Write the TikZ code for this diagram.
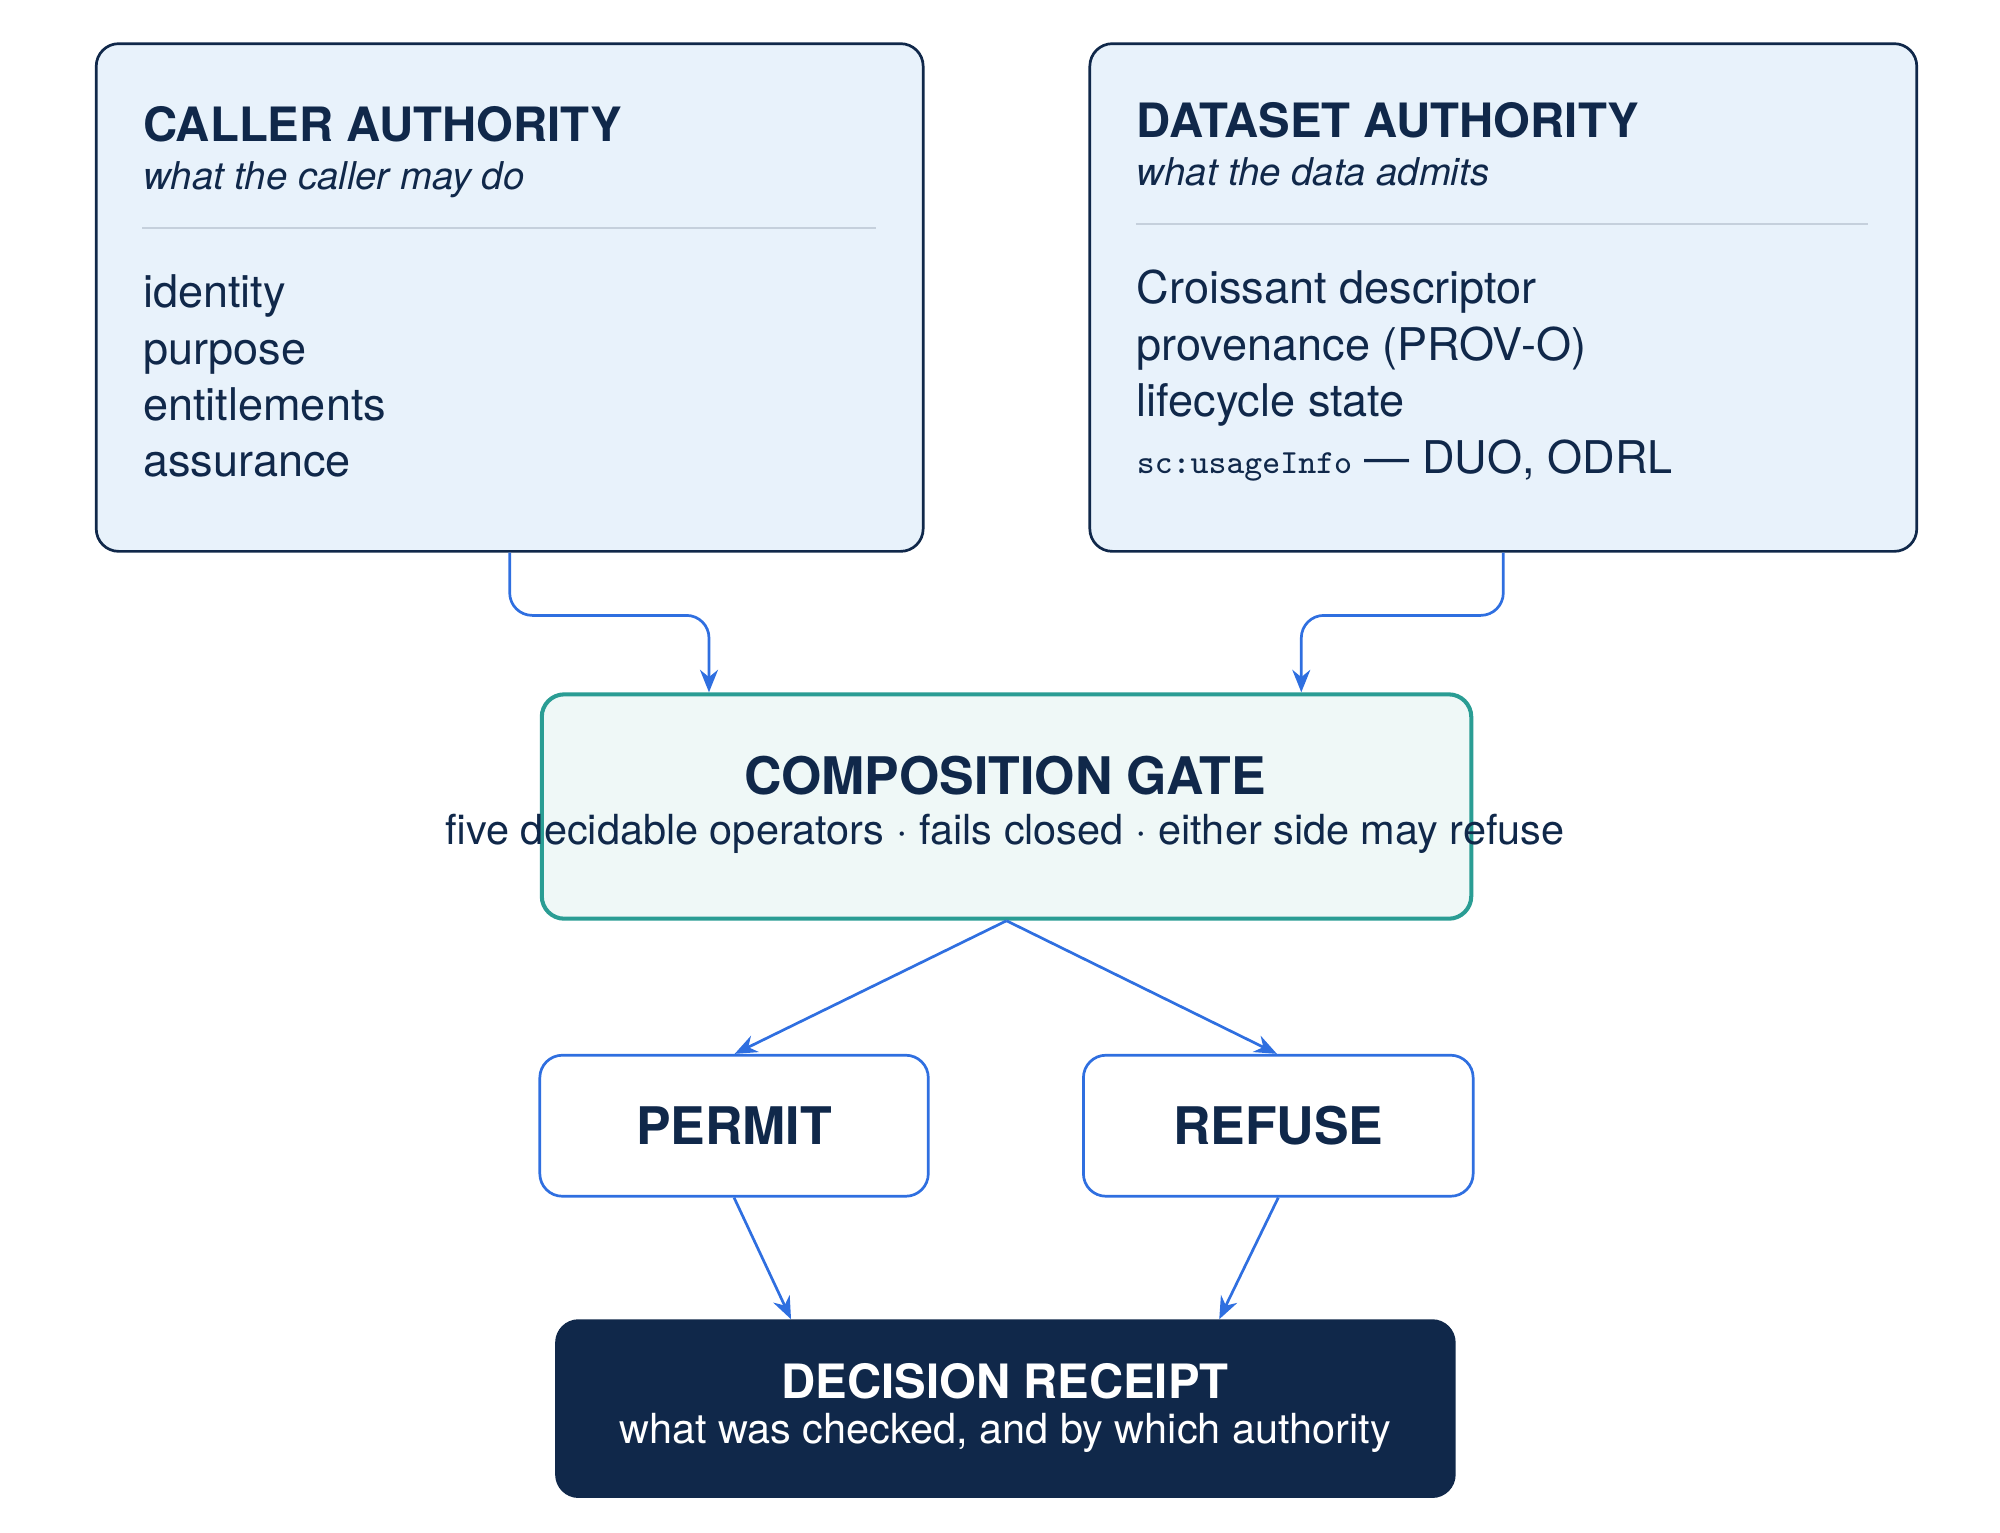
\documentclass[tikz,border=0pt]{standalone}
\usepackage{fontspec}
\setmainfont{TeX Gyre Heros}
\usetikzlibrary{arrows.meta}
\definecolor{ink}{HTML}{10284A}
\definecolor{paleblue}{HTML}{E8F2FB}
\definecolor{teal}{HTML}{2A9D94}
\definecolor{mint}{HTML}{EFF8F7}
\definecolor{wire}{HTML}{2F6FE0}
\definecolor{rulegray}{HTML}{C5D0DC}
\tikzset{
  authority/.style={draw=ink, fill=paleblue, rounded corners=5pt, line width=0.6pt},
  gate/.style={draw=teal, fill=mint, rounded corners=5pt, line width=0.9pt},
  outcome/.style={draw=wire, fill=white, rounded corners=5pt, line width=0.6pt},
  receipt/.style={draw=ink, fill=ink, rounded corners=5pt},
  flow/.style={draw=wire, line width=0.6pt, -{Stealth[length=5pt,width=4pt]}, rounded corners=5pt},
  ttl/.style={font=\fontsize{10.5}{12}\selectfont\bfseries, text=ink, inner sep=0pt},
  sub/.style={font=\fontsize{8.5}{10}\selectfont\itshape, text=ink, inner sep=0pt},
  item/.style={font=\fontsize{10}{12}\selectfont, text=ink, inner sep=0pt},
}
\begin{document}
\begin{tikzpicture}
    \useasboundingbox (0,0) rectangle (15.6,-11.95);
    % boxes
    \node[authority, minimum width=6.45cm, minimum height=3.96cm, anchor=north west] (caller) at (0.74,-0.33) {};
    \node[authority, minimum width=6.45cm, minimum height=3.96cm, anchor=north west] (dataset) at (8.49,-0.33) {};
    \node[gate, minimum width=7.25cm, minimum height=1.75cm, anchor=north west] (gate) at (4.21,-5.40) {};
    \node[outcome, minimum width=3.03cm, minimum height=1.10cm, anchor=north west] (permit) at (4.20,-8.22) {};
    \node[outcome, minimum width=3.04cm, minimum height=1.10cm, anchor=north west] (refuse) at (8.44,-8.22) {};
    \node[receipt, minimum width=7.01cm, minimum height=1.38cm, anchor=north west] (receipt) at (4.33,-10.29) {};

    % caller text
    \node[ttl, anchor=base west] (callerttl) at (1.11,-1.10) {CALLER AUTHORITY};
    \node[sub, anchor=base west] (callersub) at (1.11,-1.48) {what the caller may do};
    \draw[rulegray, line width=0.4pt] (1.11,-1.78) -- (6.83,-1.78);
    \node[item, anchor=base west] (identity) at (1.11,-2.40) {identity};
    \node[item, anchor=base west] (purpose) at (1.11,-2.84) {purpose};
    \node[item, anchor=base west] (entitle) at (1.11,-3.28) {entitlements};
    \node[item, anchor=base west] (assure) at (1.11,-3.72) {assurance};

    % dataset text
    \node[ttl, anchor=base west] (datattl) at (8.86,-1.07) {DATASET AUTHORITY};
    \node[sub, anchor=base west] (datasub) at (8.86,-1.45) {what the data admits};
    \draw[rulegray, line width=0.4pt] (8.86,-1.75) -- (14.57,-1.75);
    \node[item, anchor=base west] (croissant) at (8.86,-2.37) {Croissant descriptor};
    \node[item, anchor=base west] (prov) at (8.86,-2.81) {provenance (PROV-O)};
    \node[item, anchor=base west] (life) at (8.86,-3.25) {lifecycle state};
    \node[item, anchor=base west] (usage) at (8.86,-3.69) {{\fontsize{7.5}{9}\selectfont\ttfamily sc:usageInfo} — DUO, ODRL};

    % gate, outcomes, receipt text
    \node[ttl, font=\fontsize{11.5}{13}\selectfont\bfseries] (gatettl) at (7.84,-6.05) {COMPOSITION GATE};
    \node[item, font=\fontsize{9.2}{11}\selectfont] (gatesub) at (7.84,-6.50) {five decidable operators · fails closed · either side may refuse};
    \node[ttl, font=\fontsize{11.5}{13}\selectfont\bfseries] at (permit) {PERMIT};
    \node[ttl, font=\fontsize{11.5}{13}\selectfont\bfseries] at (refuse) {REFUSE};
    \node[ttl, text=white] (receiptttl) at (7.84,-10.77) {DECISION RECEIPT};
    \node[item, text=white, font=\fontsize{9.2}{11}\selectfont] (receiptsub) at (7.84,-11.18) {what was checked, and by which authority};

    % connectors
    \coordinate (cin) at (5.53,-5.40);
    \coordinate (din) at (10.15,-5.40);
    \draw[flow] (caller.south) |- (4.75,-4.80) -| (cin);
    \draw[flow] (dataset.south) |- (10.9,-4.80) -| (din);
    \draw[flow] (gate.south) -- (5.73,-8.22);
    \draw[flow] (gate.south) -- (9.96,-8.22);
    \draw[flow] (permit.south) -- (6.17,-10.29);
    \draw[flow] (refuse.south) -- (9.51,-10.29);
\end{tikzpicture}
\end{document}
